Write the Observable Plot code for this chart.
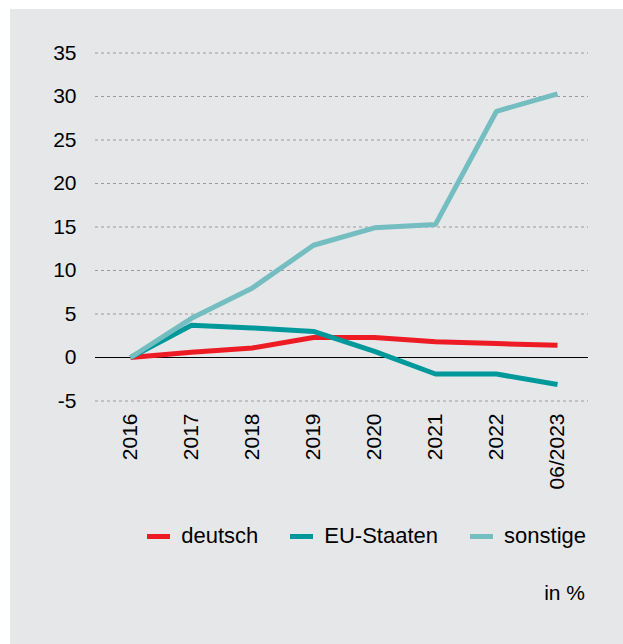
<!DOCTYPE html>
<html>
<head>
<meta charset="utf-8">
<script src="https://cdn.jsdelivr.net/npm/d3@7"></script>
<script src="https://cdn.jsdelivr.net/npm/@observablehq/plot@0.6"></script>
<style>
  html, body { margin: 0; padding: 0; background: #ffffff; }
  #panel {
    position: absolute; left: 10px; top: 9px; width: 613px; height: 635px;
    background: #e6e7e9; font-family: "Liberation Sans", Arial, sans-serif; color: #000;
  }
  #chart svg { display: block; }
  .legend { display: flex; justify-content: flex-end; align-items: center; margin-top: 14px; padding-right: 37px; font-size: 22px; line-height: 26px; }
  .legend .item { display: flex; align-items: center; margin-left: 32px; }
  .legend .sw { width: 23px; height: 5px; margin-right: 11px; }
  .unit { text-align: right; padding-right: 38px; font-size: 21px; margin-top: 32px; }
</style>
</head>
<body>
<div id="panel">
  <div id="chart"></div>
  <div class="legend" id="legend"></div>
  <div class="unit">in %</div>
</div>
<script>
const years = ["2016", "2017", "2018", "2019", "2020", "2021", "2022", "06/2023"];
const deutsch = [0, 0.6, 1.1, 2.3, 2.3, 1.8, 1.6, 1.4];
const euStaaten = [0, 3.7, 3.4, 3.0, 0.7, -1.9, -1.9, -3.1];
const sonstige = [0, 4.5, 8.0, 12.9, 14.9, 15.3, 28.3, 30.3];
const seriesNames = ["deutsch", "EU-Staaten", "sonstige"];
const seriesColors = ["#ed1c24", "#00999b", "#74bdc1"];
const yTicks = [-5, 0, 5, 10, 15, 20, 25, 30, 35];

const seriesValues = [deutsch, euStaaten, sonstige];
const data = seriesNames.flatMap((s, i) => years.map((y, j) => ({series: s, year: y, value: seriesValues[i][j]})));

const chart = Plot.plot({
  width: 613,
  height: 500,
  marginLeft: 85,
  marginRight: 35,
  marginTop: 43,
  marginBottom: 109,
  style: {background: "transparent", fontFamily: "Liberation Sans, Arial, sans-serif", color: "#000"},
  x: {type: "point", domain: years, range: [120, 547], padding: 0},
  y: {domain: [-5, 35], range: [391.5, 43.5]},
  color: {domain: seriesNames, range: seriesColors},
  marks: [
    Plot.ruleY(yTicks.filter(d => d !== 0), {stroke: "#9a9a9a", strokeWidth: 1, strokeDasharray: "3,3"}),
    Plot.ruleY([0], {stroke: "#000", strokeWidth: 1}),
    Plot.axisY({ticks: yTicks, tickSize: 0, tickPadding: 19, fontSize: 21, tickFormat: d => String(d), label: null}),
    Plot.axisX({tickSize: 0, tickPadding: 13, tickRotate: -90, fontSize: 21, label: null}),
    Plot.line(data, {x: "year", y: "value", z: "series", stroke: "series", strokeWidth: 5, strokeLinejoin: "miter", strokeLinecap: "butt"})
  ]
});
document.getElementById("chart").appendChild(chart);

const legend = document.getElementById("legend");
seriesNames.forEach((s, i) => {
  const it = document.createElement("div");
  it.className = "item";
  it.innerHTML = `<span class="sw" style="background:${seriesColors[i]}"></span><span>${s}</span>`;
  legend.appendChild(it);
});
</script>
</body>
</html>
